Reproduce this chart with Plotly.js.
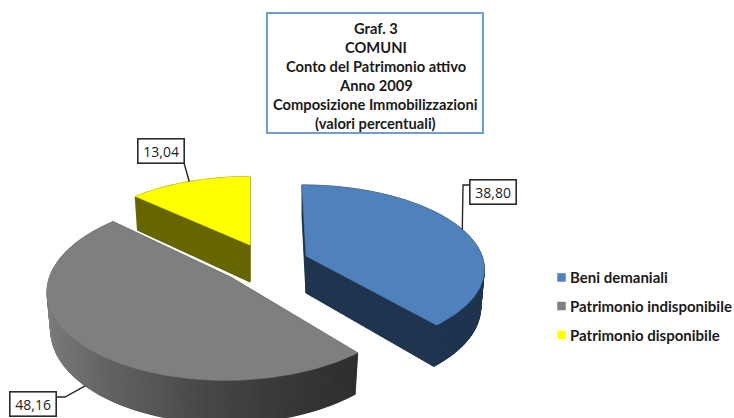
<!DOCTYPE html>
<html><head><meta charset="utf-8">
<script src="https://cdn.plot.ly/plotly-3.0.1.min.js"></script>
<style>html,body{margin:0;padding:0;background:#fff}#c{width:734px;height:418px}</style>
</head><body><div id="c"></div>
<script>
// Data
const categories = ['Beni demaniali', 'Patrimonio indisponibile', 'Patrimonio disponibile'];
const values = [38.80, 48.16, 13.04];
const titleLines = ['Graf. 3', 'COMUNI', 'Conto del Patrimonio attivo', 'Anno 2009', 'Composizione Immobilizzazioni', '(valori percentuali)'];
// Styles
const topColors = ['#4F81BD', '#7F7F7F', '#FFFF00'];
const wallColors = ['#1F344F', null, '#666600'];
// Projection of the exploded tilted pie, in the pixel scale of the axes
const apexX = [306, 230.5, 250], apexY = [256, 277, 245], lean = [-4, 5, 0];
const radiusX = [176, 181, 172], radiusY = [81, 89, 78];
const PERSP = 0.139, DEPTH = 37, BOTTOM_X = 0.98;
const RAD = Math.PI / 180;

const total = values.reduce((a, b) => a + b, 0);
let acc = 0;
const spans = values.map(v => { const s = acc; acc += v / total * 360; return [s, acc]; });

function project(i, deg, r, bottom) {
  const th = deg * RAD, Y = r * Math.cos(th), s = 1 / (1 + PERSP * Y);
  let x = radiusX[i] * r * Math.sin(th) * s + lean[i] * Y;
  let y = -radiusY[i] * Y * s;
  if (bottom) { x *= BOTTOM_X; y += DEPTH * s; }
  return [apexX[i] + x, apexY[i] + y];
}
function sector(i, bottom) {
  const pts = [project(i, 0, 0, bottom)];
  const [a, b] = spans[i], n = Math.ceil(b - a);
  for (let k = 0; k <= n; k++) pts.push(project(i, a + (b - a) * k / n, 1, bottom));
  pts.push(pts[0]);
  return pts;
}
function poly(pts, color, name) {
  return { type: 'scatter', mode: 'lines', x: pts.map(p => p[0]), y: pts.map(p => p[1]),
    fill: 'toself', fillcolor: color, line: { color: color, width: 0.6 },
    hoverinfo: 'skip', showlegend: false, name: name || '' };
}
function greyRamp(x) {
  const t = Math.min(1, Math.max(0, (x - 47) / 313));
  const stops = [[0, 0x7c], [0.2, 0x62], [0.5, 0x48], [0.8, 0x36], [1, 0x2e]];
  for (let j = 1; j < stops.length; j++) if (t <= stops[j][0]) {
    const f = (t - stops[j - 1][0]) / (stops[j][0] - stops[j - 1][0]);
    const g = Math.round(stops[j - 1][1] + f * (stops[j][1] - stops[j - 1][1]));
    return `rgb(${g},${g},${g})`;
  }
  return 'rgb(46,46,46)';
}
const traces = [];
[2, 0, 1].forEach(i => {
  const t = sector(i, false), b = sector(i, true);
  traces.push(poly(b, wallColors[i] || greyRamp(200)));
  for (let k = 0; k < t.length - 1; k++) {
    const mid = (t[k][0] + t[k + 1][0]) / 2;
    const col = wallColors[i] || greyRamp(mid);
    traces.push(poly([t[k], t[k + 1], b[k + 1], b[k], t[k]], col));
  }
  traces.push(poly(t, topColors[i], categories[i]));
});

// Leader lines: from each label box to the rim at the slice's middle angle
const labelBox = [[493, 192], [33, 404], [160.5, 151]];
const leaderElbow = [[[470, 185], [463, 185]], [[56, 397], [65, 397]], [[184, 163]]];
const annotations = [];
values.forEach((v, i) => {
  const mid = (spans[i][0] + spans[i][1]) / 2;
  const end = project(i, mid, 1, i === 1);
  const pts = leaderElbow[i].concat([end]);
  traces.push({ type: 'scatter', mode: 'lines', x: pts.map(p => p[0]), y: pts.map(p => p[1]),
    line: { color: '#262626', width: 1.4 }, hoverinfo: 'skip', showlegend: false });
  annotations.push({ xref: 'x', yref: 'y', x: labelBox[i][0], y: labelBox[i][1], showarrow: false,
    text: v.toFixed(2).replace('.', ','), width: 43, height: 21, borderpad: 1,
    bgcolor: '#fff', bordercolor: '#2b2b2b', borderwidth: 1.6,
    font: { family: '"Open Sans", sans-serif', size: 14, color: '#222' } });
});

// Legend drawn on the same axes
const legendY = [277.5, 306, 335];
categories.forEach((c, i) => {
  traces.push({ type: 'scatter', mode: 'markers', x: [561.5], y: [legendY[i]],
    marker: { symbol: 'square', size: 8.5, color: topColors[i] }, hoverinfo: 'skip', showlegend: false });
  annotations.push({ xref: 'x', yref: 'y', x: 567.5, y: legendY[i] - 0.5, xanchor: 'left', showarrow: false, text: '<b>' + c + '</b>',
    font: { family: 'Lato, sans-serif', size: 15, color: '#1a1a1a' } });
});

// Title lines
const titleTop = 28, titleStep = 18.9;
titleLines.forEach((t, i) => annotations.push({ xref: 'x', yref: 'y', x: 375.5, y: titleTop + i * titleStep,
  showarrow: false, text: '<b>' + t + '</b>', font: { family: 'Lato, sans-serif', size: 14.7, color: '#1a1a1a' } }));

const layout = {
  width: 734, height: 418, margin: { l: 0, r: 0, t: 0, b: 0 }, paper_bgcolor: '#fff', plot_bgcolor: '#fff', showlegend: false,
  xaxis: { range: [0, 734], visible: false, fixedrange: true },
  yaxis: { range: [418, 0], visible: false, fixedrange: true },
  shapes: [{ type: 'rect', xref: 'x', yref: 'y', x0: 267, x1: 483, y0: 13, y1: 133,
    line: { color: '#6F9FD2', width: 2 }, fillcolor: '#fff', layer: 'below' }],
  annotations: annotations
};
Plotly.newPlot('c', traces, layout, { displayModeBar: false, staticPlot: true });
</script></body></html>
